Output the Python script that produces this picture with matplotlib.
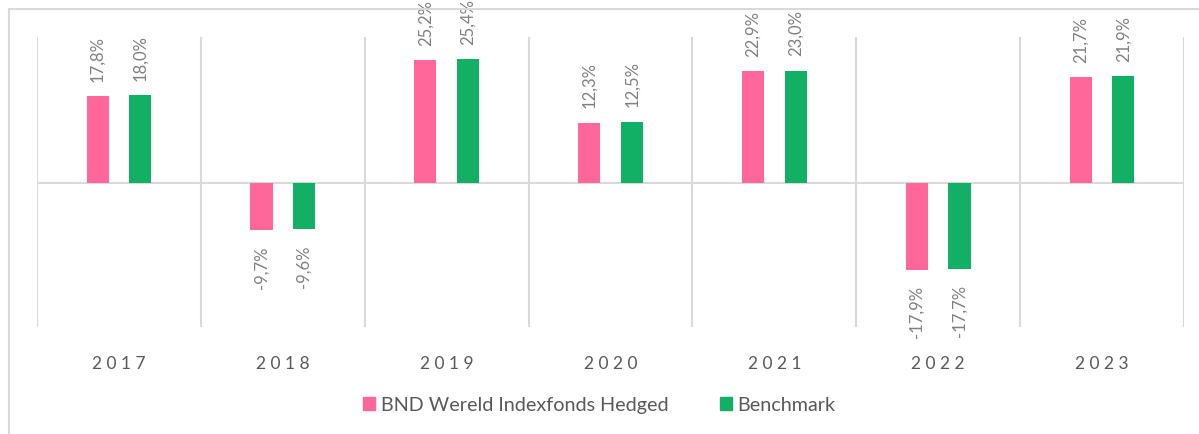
import numpy as np
import matplotlib.pyplot as plt
from matplotlib.patches import Rectangle, Patch

years = ['2017', '2018', '2019', '2020', '2021', '2022', '2023']
fund = [17.8, -9.7, 25.2, 12.3, 22.9, -17.9, 21.7]
bench = [18.0, -9.6, 25.4, 12.5, 23.0, -17.7, 21.9]
names = ['BND Wereld Indexfonds Hedged', 'Benchmark']

pink = '#FF6699'
green = '#12B064'
grey_txt = '#595959'
grid_c = '#D9D9D9'

plt.rcParams['font.family'] = ['Lato', 'DejaVu Sans']

fig = plt.figure(figsize=(11.99, 4.35), dpi=100)
# outer frame of the chart box
fig.patches.append(Rectangle((9 / 1199, -0.1), 1.2, 1.1 - 10 / 435, transform=fig.transFigure,
                             fill=False, edgecolor=grid_c, linewidth=1.5))

ax = fig.add_axes([37 / 1199, 1 - 328 / 435, (1184 - 37) / 1199, (328 - 38) / 435])
x = np.arange(len(years))
w = 0.135
off = 0.13
ax.bar(x - off, fund, w, color=pink, zorder=3)
ax.bar(x + off, bench, w, color=green, zorder=3)

def fmt(v):
    return ('%.1f%%' % v).replace('.', ',')

for xs, vals in ((x - off, fund), (x + off, bench)):
    for xi, v in zip(xs, vals):
        if v >= 0:
            ax.text(xi, v + 3.2, fmt(v), rotation=90, ha='center', va='bottom',
                    color='#808080', fontsize=12)
        else:
            ax.text(xi, v - 3.2, fmt(v), rotation=90, ha='center', va='top',
                    color='#808080', fontsize=12)

ax.set_xlim(-0.5, len(years) - 0.5)
ax.set_ylim(-29.7, 30)
for b in np.arange(-0.5, len(years), 1.0):
    ax.axvline(b, color=grid_c, linewidth=1.5, zorder=1)
ax.axhline(0, color=grid_c, linewidth=1.5, zorder=2)
for s in ax.spines.values():
    s.set_visible(False)
ax.set_yticks([])
ax.set_xticks(x)
ax.set_xticklabels([' '.join(y) for y in years], color=grey_txt, fontsize=12.5)
ax.tick_params(axis='x', length=0, pad=20)

handles = [Patch(color=pink), Patch(color=green)]
fig.legend(handles, names, loc='center', bbox_to_anchor=(0.5, 1 - 406 / 435), ncol=2,
           frameon=False, fontsize=14.2, labelcolor=grey_txt, handlelength=0.6,
           handleheight=0.6, handletextpad=0.3, columnspacing=2.6)

fig.savefig('out.png', dpi=100)
